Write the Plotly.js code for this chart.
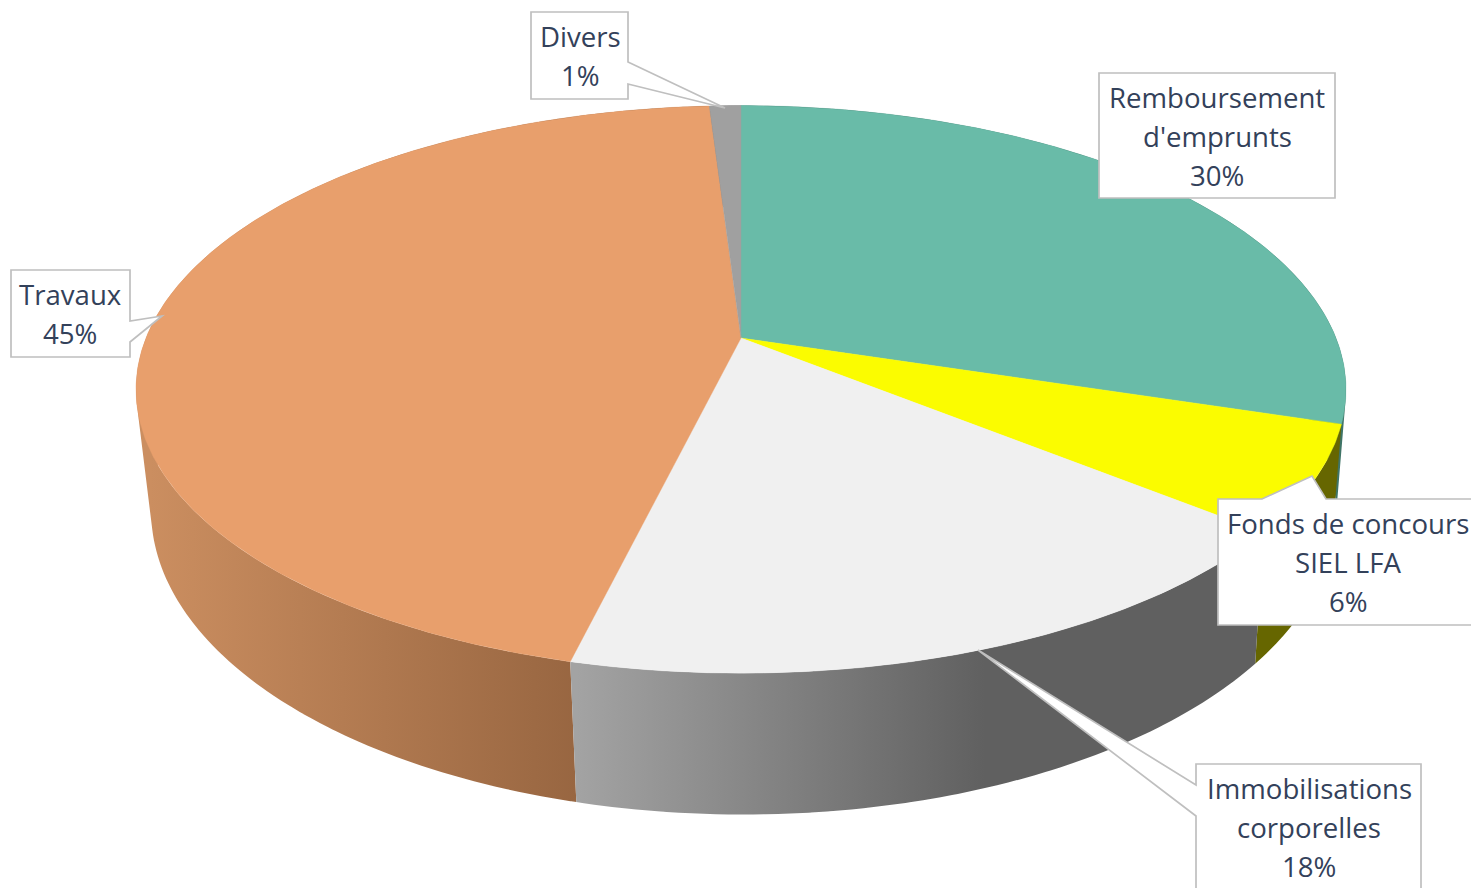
<!DOCTYPE html>
<html>
<head>
<meta charset="utf-8">
<script src="https://cdn.plot.ly/plotly-3.0.1.min.js"></script>
<style>html,body{margin:0;padding:0;background:#fff}#chart{width:1471px;height:888px}</style>
</head>
<body>
<div id="chart"></div>
<script>
// Data
const categories = ["Remboursement d'emprunts", "Fonds de concours SIEL LFA", "Immobilisations corporelles", "Travaux", "Divers"];
const values = [29.8, 6, 18, 45.2, 1];
const percentLabels = ["30%", "6%", "18%", "45%", "1%"];
const labelLines = [["Remboursement", "d'emprunts"], ["Fonds de concours", "SIEL LFA"], ["Immobilisations", "corporelles"], ["Travaux"], ["Divers"]];

// Styles
const topColors = ["#69BBA8", "#FBFC00", "#F0F0F0", "#E89F6C", "#A0A0A0"];
const wallFills = [
  {color: "#3F7466"},
  {color: "#666600"},
  {grad: {type: "horizontal", start: 577, stop: 985, colorscale: [[0, "#A3A3A3"], [1, "#606060"]]}},
  {grad: {type: "horizontal", start: 150, stop: 577, colorscale: [[0, "#CB8E60"], [1, "#986641"]]}},
  {color: "#6F6F6F"}
];
const wallOrder = [0, 4, 3, 1, 2];

// Perspective of the disc: top face and bottom face
const topFace = {cx: 741, cy: 338, a: 595, b: 274.5, k: 0.181};
const botFace = {cx: 743.5, cy: 455.5, a: 582.6, b: 294, k: 0.181};
function project(f, frac) {
  const t = 2 * Math.PI * frac, u = Math.sin(t), v = Math.cos(t), d = 1 + f.k * v;
  return [f.cx + f.a * u / d, f.cy - f.b * v / d];
}
function fracs(a, b) {
  const n = Math.max(2, Math.ceil((b - a) * 720)), out = [];
  for (let i = 0; i <= n; i++) out.push(a + (b - a) * i / n);
  return out;
}
function signedArea(q) {
  let s = 0;
  for (let i = 0; i < q.length; i++) {
    const p = q[i], r = q[(i + 1) % q.length];
    s += p[0] * r[1] - r[0] * p[1];
  }
  return s;
}
const total = values.reduce((s, x) => s + x, 0);
const starts = [];
values.reduce((s, x, i) => { starts[i] = s / total; return s + x; }, 0);
const ends = values.map((x, i) => starts[i] + x / total);

const traces = [];
wallOrder.forEach(i => {
  // the side is swept as overlapping strips from the top rim to the bottom rim,
  // all wound the same way so that they add up instead of cancelling at the silhouette
  const fs = fracs(starts[i], ends[i]), xs = [], ys = [];
  for (let j = 0; j + 1 < fs.length; j++) {
    const nextF = fs[Math.min(j + 2, fs.length - 1)];
    let q = [project(topFace, fs[j]), project(topFace, nextF), project(botFace, nextF), project(botFace, fs[j])];
    if (signedArea(q) < 0) q = q.reverse();
    q.push(q[0]);
    q.forEach(p => { xs.push(p[0]); ys.push(p[1]); });
    xs.push(null); ys.push(null);
  }
  const tr = {x: xs, y: ys, mode: "lines", fill: "toself", connectgaps: false,
    line: {width: 0, simplify: false}, hoverinfo: "skip", showlegend: false, name: categories[i] + " (side)"};
  if (wallFills[i].grad) tr.fillgradient = wallFills[i].grad; else tr.fillcolor = wallFills[i].color;
  traces.push(tr);
});
values.forEach((val, i) => {
  const pts = [[topFace.cx, topFace.cy]].concat(fracs(starts[i], ends[i]).map(f => project(topFace, f)));
  pts.push(pts[0]);
  traces.push({x: pts.map(p => p[0]), y: pts.map(p => p[1]), mode: "lines", fill: "toself",
    fillcolor: topColors[i], line: {width: 0.4, color: topColors[i]},
    hoverinfo: "text", text: categories[i] + " " + percentLabels[i], showlegend: false, name: categories[i]});
});

// Callout outlines (x, y pairs), same order as categories
const callouts = [
  [[1099,73],[1335,73],[1335,198],[1099,198]],
  [[1218,499],[1262,499],[1312,476],[1326,499],[1480,499],[1480,625],[1218,625]],
  [[1196,764],[1421,764],[1421,900],[1196,900],[1196,816],[978,650],[1196,785]],
  [[11,270],[130,270],[130,321],[162,316],[130,342],[130,357],[11,357]],
  [[531,12],[628,12],[628,62],[725,108],[628,84],[628,99],[531,99]]
];
const shapes = callouts.map(c => ({
  type: "path", xref: "x", yref: "y", layer: "above",
  path: "M" + c.map(p => p[0] + "," + p[1]).join("L") + "Z",
  fillcolor: "#FFFFFF", line: {color: "#BFBFBF", width: 1.7}
}));

// Text anchor: centre x, first line y, per category
const textPos = [[1217, 97], [1348, 523], [1309, 788], [70, 294], [580, 36]];
const lineGap = 39.2;
const annotations = [];
labelLines.forEach((lines, i) => {
  lines.concat([percentLabels[i]]).forEach((s, j) => {
    annotations.push({xref: "x", yref: "y", x: textPos[i][0], y: textPos[i][1] + j * lineGap, text: s,
      showarrow: false, xanchor: "center", yanchor: "middle",
      font: {family: "'Open Sans', 'Noto Sans', sans-serif", size: 27.6, color: "#33415A"}});
  });
});

Plotly.newPlot("chart", traces, {
  width: 1471, height: 888, margin: {l: 0, r: 0, t: 0, b: 0},
  paper_bgcolor: "#FFFFFF", plot_bgcolor: "#FFFFFF", showlegend: false,
  xaxis: {range: [0, 1471], visible: false, fixedrange: true},
  yaxis: {range: [888, 0], visible: false, fixedrange: true},
  shapes: shapes, annotations: annotations
}, {displayModeBar: false});
</script>
</body>
</html>
